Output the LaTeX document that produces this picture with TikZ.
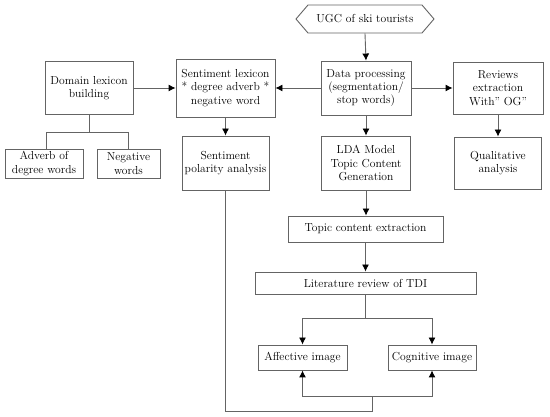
\documentclass[tikz,border=0pt]{standalone}
\usetikzlibrary{arrows.meta}
\definecolor{ln}{RGB}{100,100,100}
\begin{document}
\begin{tikzpicture}[x=1pt,y=-1pt,
  box/.style={draw=ln, line width=0.9pt, align=center, inner sep=1pt,
    font=\fontsize{11.6}{13.4}\selectfont},
  conn/.style={draw=ln, line width=0.9pt},
  arr/.style={conn, -{Latex[length=7pt,width=7pt,color=black]}}]
\useasboundingbox (0,0) rectangle (550,417);
\fill[white] (0,0) rectangle (550,417);
% nodes
\node[box, draw=none, minimum width=138pt, minimum height=28pt] (ugc) at (365,19) {UGC of ski tourists};
\draw[conn] (296,19) -- (308,5) -- (422,5) -- (434,19) -- (422,33) -- (308,33) -- cycle;
\node[box, minimum width=88pt, minimum height=53pt] (domain) at (89,88) {Domain lexicon\\building};
\node[box, minimum width=99pt, minimum height=58pt] (sentlex) at (225.5,88) {Sentiment lexicon\\* degree adverb *\\negative word};
\node[box, minimum width=87pt, minimum height=54pt] (polarity) at (225.5,163) {Sentiment\\polarity analysis};
\node[box, minimum width=78pt, minimum height=29pt] (adverb) at (44,163.5) {Adverb of\\degree words};
\node[box, minimum width=63pt, minimum height=29pt] (negative) at (128.5,163.5) {Negative\\words};
\node[box, minimum width=90pt, minimum height=54pt] (data) at (366,88) {Data processing\\(segmentation/\\stop words)};
\node[box, minimum width=90pt, minimum height=52pt] (reviews) at (498,88) {Reviews\\extraction\\With” OG”};
\node[box, minimum width=89pt, minimum height=54pt] (lda) at (366,163) {LDA Model\\Topic Content\\Generation};
\node[box, minimum width=87pt, minimum height=52pt] (qual) at (498,163) {Qualitative\\analysis};
\node[box, minimum width=155pt, minimum height=26pt] (topic) at (365.5,229) {Topic content extraction};
\node[box, minimum width=221pt, minimum height=22pt] (lit) at (365.5,283) {Literature review of TDI};
\node[box, minimum width=89pt, minimum height=25pt] (aff) at (302.5,357.5) {Affective image};
\node[box, minimum width=88pt, minimum height=25pt] (cog) at (432,357.5) {Cognitive image};
\coordinate (litj) at (365.5,318);
\coordinate (domj) at (89,132);
\coordinate (botj) at (372,396);
% connectors
\draw[arr] (ugc.south) -- (data.north);
\draw[arr] (data.west) -- (sentlex.east);
\draw[arr] (domain.east) -- (sentlex.west);
\draw[arr] (data.east) -- (reviews.west);
\draw[arr] (sentlex.south) -- (polarity.north);
\draw[arr] (data.south) -- (lda.north);
\draw[arr] (reviews.south) -- (qual.north);
\draw[arr] (lda.south) -- (lda.south |- topic.north);
\draw[arr] (topic.south) -- (topic.south |- lit.north);
\draw[conn] (lit.south) -- (litj);
\draw[arr] (litj) -| (aff.north);
\draw[arr] (litj) -| (cog.north);
\draw[conn] (domain.south) -- (domj);
\draw[conn] (domj) -| (46,149) (domj) -| (negative.north);
\draw[arr] (botj) -| (aff.south);
\draw[arr] (botj) -| (cog.south);
\draw[conn] (polarity.south) |- (372,411) -- (botj);
\end{tikzpicture}
\end{document}
